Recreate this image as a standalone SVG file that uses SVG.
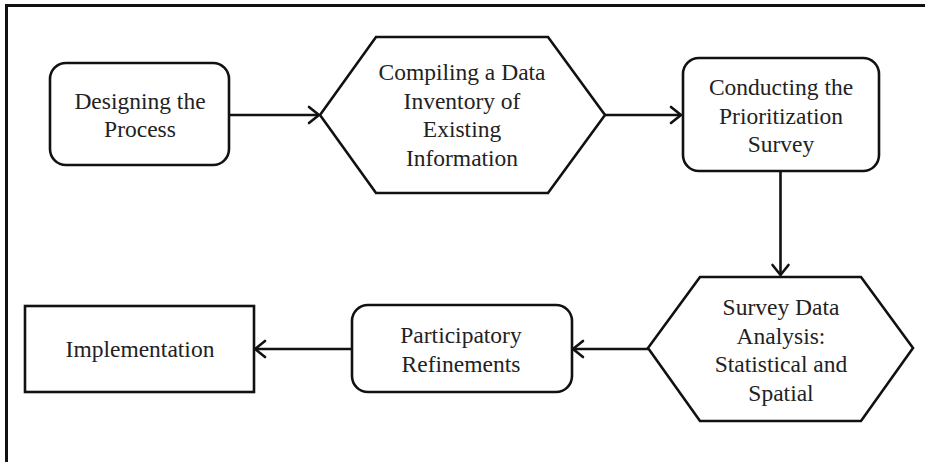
<svg xmlns="http://www.w3.org/2000/svg" width="925" height="462" viewBox="0 0 925 462">
<style>
.shape{fill:#fff;stroke:#111;stroke-width:2.6}
.lbl{font-family:"Liberation Serif","Times New Roman",serif;font-size:23.5px;fill:#222;text-anchor:middle}
.conn{stroke:#111;stroke-width:2.6;fill:none}
.head{stroke:#111;stroke-width:2.6;fill:none;stroke-linecap:round;stroke-linejoin:miter}
</style>
<rect width="925" height="462" fill="#fff"/>
<g id="frame">
<line x1="5" y1="5.5" x2="925" y2="5.5" stroke="#111" stroke-width="3"/>
<line x1="6.5" y1="4" x2="6.5" y2="462" stroke="#111" stroke-width="3"/>
</g>
<g id="connectors">
<line class="conn" x1="229" y1="115" x2="319" y2="115"/>
<polyline class="head" points="309,107 319,115 309,123"/>
<line class="conn" x1="605" y1="115" x2="681" y2="115"/>
<polyline class="head" points="671,107 681,115 671,123"/>
<line class="conn" x1="780.5" y1="171" x2="780.5" y2="275"/>
<polyline class="head" points="772.5,265 780.5,275 788.5,265"/>
<line class="conn" x1="648" y1="349" x2="573" y2="349"/>
<polyline class="head" points="583,341 573,349 583,357"/>
<line class="conn" x1="352" y1="349" x2="255" y2="349"/>
<polyline class="head" points="265,341 255,349 265,357"/>
</g>
<g id="n-designing">
<rect class="shape" x="50" y="63" width="179" height="102" rx="16"/>
<text class="lbl" x="140" y="109">Designing the</text>
<text class="lbl" x="140" y="137">Process</text>
</g>
<g id="n-compiling">
<polygon class="shape" points="320,115 376,37 548,37 605,115 548,193 376,193"/>
<text class="lbl" x="462" y="80">Compiling a Data</text>
<text class="lbl" x="462" y="108.5">Inventory of</text>
<text class="lbl" x="462" y="137">Existing</text>
<text class="lbl" x="462" y="165.5">Information</text>
</g>
<g id="n-conducting">
<rect class="shape" x="683" y="58" width="196" height="113" rx="16"/>
<text class="lbl" x="781" y="95">Conducting the</text>
<text class="lbl" x="781" y="123.5">Prioritization</text>
<text class="lbl" x="781" y="152">Survey</text>
</g>
<g id="n-analysis">
<polygon class="shape" points="648,348 700,277 861,277 913,348 861,421 700,421"/>
<text class="lbl" x="781" y="315">Survey Data</text>
<text class="lbl" x="781" y="343.5">Analysis:</text>
<text class="lbl" x="781" y="372">Statistical and</text>
<text class="lbl" x="781" y="400.5">Spatial</text>
</g>
<g id="n-participatory">
<rect class="shape" x="352" y="305" width="220" height="87" rx="16"/>
<text class="lbl" x="461" y="343">Participatory</text>
<text class="lbl" x="461" y="372">Refinements</text>
</g>
<g id="n-implementation">
<rect class="shape" x="25" y="306" width="229" height="86"/>
<text class="lbl" x="140" y="357">Implementation</text>
</g>
</svg>
